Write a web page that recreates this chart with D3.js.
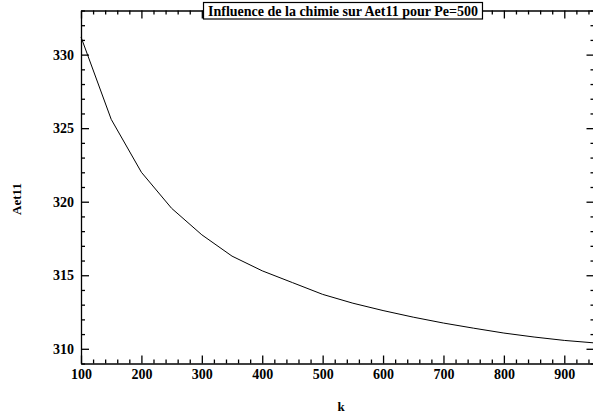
<!DOCTYPE html>
<html>
<head>
<meta charset="utf-8">
<script src="https://cdn.jsdelivr.net/npm/d3@7"></script>
<style>
  body { margin: 0; background: #fff; }
  svg { display: block; font-family: "Liberation Serif", "Times New Roman", serif; }
  .axis path, .axis line { stroke: #000; stroke-width: 1.3; }
  .axis text { font-size: 14px; font-weight: bold; fill: #000; font-family: "Liberation Serif", serif; }
</style>
</head>
<body>
<svg id="chart"></svg>
<script>
// Data
const kValues = [100, 150, 200, 250, 300, 350, 400, 450, 500, 550, 600, 650, 700, 750, 800, 850, 900, 950];
const aetValues = [331.2, 325.6, 322.0, 319.55, 317.75, 316.3, 315.3, 314.5, 313.7, 313.1, 312.6, 312.15, 311.75, 311.4, 311.07, 310.8, 310.57, 310.4];
const xTicks = [100, 200, 300, 400, 500, 600, 700, 800, 900];
const yTicks = [310, 315, 320, 325, 330];
const chartTitle = "Influence de la chimie sur Aet11 pour Pe=500";
const xLabel = "k";
const yLabel = "Aet11";

const data = kValues.map((k, i) => ({ k: k, v: aetValues[i] }));

// Dimensions
const width = 593;
const height = 417;
const plotLeft = 81;
const plotRight = 594.5;
const plotTop = 10.5;
const plotBottom = 363.5;

const svg = d3.select("#chart").attr("width", width).attr("height", height);

// Scales
const xScale = d3.scaleLinear().domain([100, 950]).range([plotLeft, plotRight]);
const yScale = d3.scaleLinear().domain([309, 333]).range([plotBottom, plotTop]);

const xMinor = d3.range(100, 960, 20).filter((d) => d % 100 !== 0);
const yMinor = d3.range(309, 334, 1).filter((d) => d % 5 !== 0);

// Minor ticks
svg.append("g").attr("class", "axis")
  .attr("transform", `translate(0, ${plotBottom})`)
  .call(d3.axisBottom(xScale).tickValues(xMinor).tickSize(-4).tickFormat(""))
  .call((g) => g.select(".domain").remove());
svg.append("g").attr("class", "axis")
  .attr("transform", `translate(0, ${plotTop})`)
  .call(d3.axisTop(xScale).tickValues(xMinor).tickSize(-4).tickFormat(""))
  .call((g) => g.select(".domain").remove());
svg.append("g").attr("class", "axis")
  .attr("transform", `translate(${plotLeft}, 0)`)
  .call(d3.axisLeft(yScale).tickValues(yMinor).tickSize(-4).tickFormat(""))
  .call((g) => g.select(".domain").remove());
svg.append("g").attr("class", "axis")
  .attr("transform", `translate(${plotRight}, 0)`)
  .call(d3.axisRight(yScale).tickValues(yMinor).tickSize(-4).tickFormat(""))
  .call((g) => g.select(".domain").remove());

// Major axes
svg.append("g").attr("class", "axis")
  .attr("transform", `translate(0, ${plotBottom})`)
  .call(d3.axisBottom(xScale).tickValues(xTicks).tickSizeInner(-8).tickSizeOuter(0).tickPadding(6));
svg.append("g").attr("class", "axis")
  .attr("transform", `translate(0, ${plotTop})`)
  .call(d3.axisTop(xScale).tickValues(xTicks).tickSizeInner(-8).tickSizeOuter(0).tickFormat(""));
svg.append("g").attr("class", "axis")
  .attr("transform", `translate(${plotLeft}, 0)`)
  .call(d3.axisLeft(yScale).tickValues(yTicks).tickSizeInner(-8).tickSizeOuter(0).tickPadding(7));
svg.append("g").attr("class", "axis")
  .attr("transform", `translate(${plotRight}, 0)`)
  .call(d3.axisRight(yScale).tickValues(yTicks).tickSizeInner(-8).tickSizeOuter(0).tickFormat(""));

// Curve
const line = d3.line().x((d) => xScale(d.k)).y((d) => yScale(d.v));
svg.append("path")
  .datum(data)
  .attr("fill", "none")
  .attr("stroke", "#000")
  .attr("stroke-width", 1)
  .attr("d", line);

// Title box
const title = svg.append("g");
const titleText = title.append("text")
  .attr("x", 343)
  .attr("y", 15.5)
  .attr("text-anchor", "middle")
  .style("font-size", "14px")
  .style("font-weight", "bold")
  .text(chartTitle);
const bb = titleText.node().getBBox();
title.insert("rect", "text")
  .attr("x", bb.x - 4.5)
  .attr("y", 2.5)
  .attr("width", bb.width + 9)
  .attr("height", 16.5)
  .attr("fill", "#fff")
  .attr("stroke", "#000")
  .attr("stroke-width", 1.2);

// Axis labels
svg.append("text")
  .attr("x", 341)
  .attr("y", 411)
  .attr("text-anchor", "middle")
  .style("font-size", "13px")
  .style("font-weight", "bold")
  .text(xLabel);

svg.append("text")
  .attr("transform", "translate(21, 199) rotate(-90)")
  .attr("text-anchor", "middle")
  .style("font-size", "13px")
  .style("font-weight", "bold")
  .text(yLabel);
</script>
</body>
</html>
